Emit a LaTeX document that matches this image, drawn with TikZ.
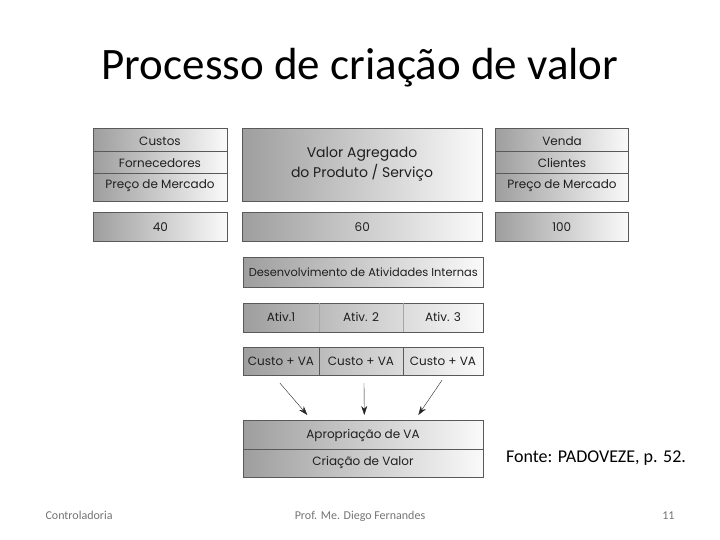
\documentclass[tikz,border=0pt]{standalone}
\usepackage{fontspec}
\usetikzlibrary{arrows.meta}
\setmainfont{Carlito}
\newfontfamily\diagfont{Poppins}
\begin{document}
\begin{tikzpicture}[x=1pt,y=-1pt,
	caixa/.style={draw=black!65, line width=0.6pt, left color=black!38, right color=black!2, inner sep=0pt, anchor=north west},
	txt/.style={font=\diagfont\fontsize{12}{14}\selectfont, text=black!88, inner sep=0pt},
	cela/.style={txt, minimum height=28pt},
	seta/.style={-{Stealth[length=9pt,width=6pt]}, thin, black!85},
	rodape/.style={font=\fontsize{12}{14}\selectfont, text=black!55}]
	\useasboundingbox (0,0) rectangle (720,540);

	\node (titulo) at (360,68) {\fontsize{45}{50}\selectfont Processo de criação de valor};

	% caixas de cima
	\node[caixa, minimum width=134pt, minimum height=73pt] (esq) at (93,128) {};
	\node[caixa, minimum width=240pt, minimum height=73pt] (meio) at (242,128) {};
	\node[caixa, minimum width=133pt, minimum height=73pt] (dir) at (495,128) {};
	\foreach \y in {151,173} {
		\draw[black!65] (93,\y) -- (227,\y);
		\draw[black!65] (495,\y) -- (628,\y);
	}
	\node[txt] (custos) at (160,141) {Custos};
	\node[txt] (fornec) at (160,163) {Fornecedores};
	\node[txt] (precoa) at (160,186) {Preço de Mercado};
	\node[txt, align=center, font=\diagfont\fontsize{14}{20}\selectfont] (valor) at (362,164) {Valor Agregado\\do Produto / Serviço};
	\node[txt] (venda) at (562,141) {Venda};
	\node[txt] (clientes) at (562,163) {Clientes};
	\node[txt] (precob) at (562,186) {Preço de Mercado};

	% valores
	\node[caixa, minimum width=134pt, minimum height=29pt] (v40) at (93,212) {};
	\node[caixa, minimum width=240pt, minimum height=29pt] (v60) at (242,212) {};
	\node[caixa, minimum width=133pt, minimum height=29pt] (v100) at (495,212) {};
	\node[txt] at (v40) {40};
	\node[txt] at (v60) {60};
	\node[txt] at (v100) {100};

	% atividades
	\node[caixa, minimum width=240pt, minimum height=30pt] (desenv) at (243,257) {};
	\node[txt, font=\diagfont\fontsize{11.4}{13}\selectfont] at (desenv) {Desenvolvimento de Atividades Internas};

	\node[caixa, minimum width=240pt, minimum height=29pt] (ativ) at (243,303) {};
	\node[caixa, minimum width=240pt, minimum height=28pt] (custo) at (243,347) {};
	\draw[black!35] (319,303) -- (319,332) (403,303) -- (403,332);
	\draw[black!65] (319,347) -- (319,375) (403,347) -- (403,375);
	\node[txt] (at1) at (281,317) {Ativ.1};
	\node[txt] (at2) at (361,317) {Ativ. 2};
	\node[txt] (at3) at (443,317) {Ativ. 3};
	\node[cela] (cva1) at (281,361) {Custo + VA};
	\node[cela] (cva2) at (361,361) {Custo + VA};
	\node[cela] (cva3) at (443,361) {Custo + VA};

	% apropriacao
	\node[caixa, minimum width=240pt, minimum height=57pt] (aprop) at (243,420) {};
	\draw[black!65] (243,449) -- (483,449);
	\node[txt] (apva) at (363,435) {Apropriação de VA};
	\node[txt] (criacao) at (363,462) {Criação de Valor};

	\draw[seta] ([xshift=-1pt, yshift=-8pt]cva1.south) -- ([xshift=-56pt, yshift=5pt]aprop.north);
	\draw[seta] ([xshift=3pt, yshift=-8pt]cva2.south) -- ([xshift=1pt, yshift=5pt]aprop.north);
	\draw[seta] ([xshift=-1pt, yshift=-5pt]cva3.south) -- ([xshift=55pt, yshift=5pt]aprop.north);

	\node[font=\fontsize{18}{21}\selectfont, anchor=base] (fonte) at (596,462) {Fonte: PADOVEZE, p. 52.};

	\node[rodape, anchor=base west] (disc) at (42,519) {Controladoria};
	\node[rodape, anchor=base] (prof) at (360,519) {Prof. Me. Diego Fernandes};
	\node[rodape, anchor=base east] (pag) at (678,519) {11};
\end{tikzpicture}
\end{document}
